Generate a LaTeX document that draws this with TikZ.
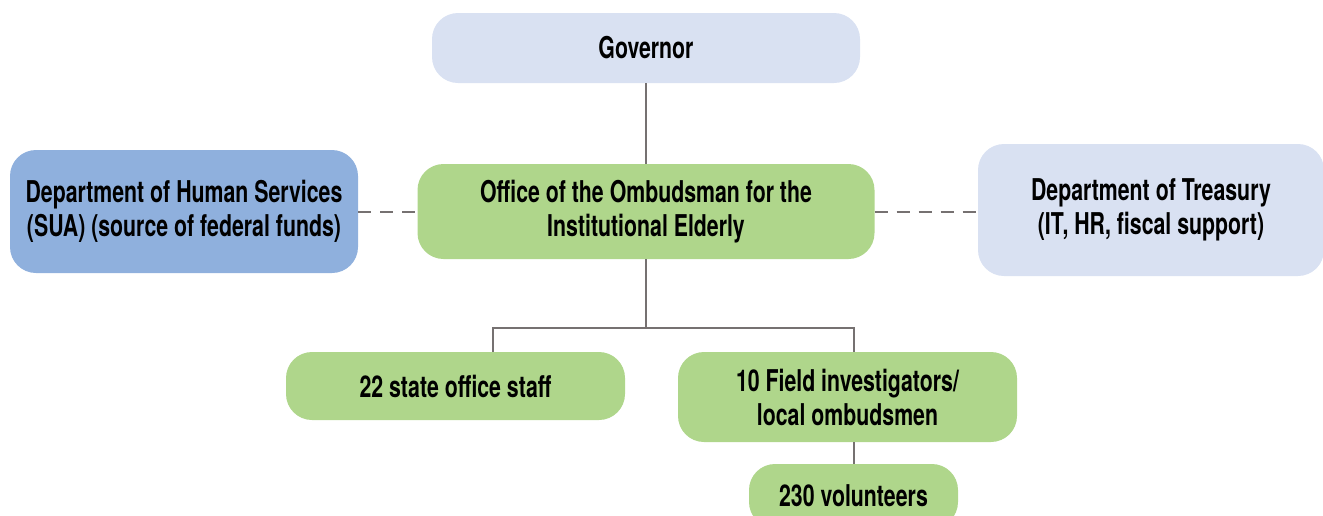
\documentclass[tikz,border=0pt]{standalone}
\usepackage{fontspec}
\setmainfont{TeX Gyre Heros}[FakeStretch=0.71]
\definecolor{lightblue}{HTML}{D9E1F2}
\definecolor{midblue}{HTML}{8FB0DD}
\definecolor{leaf}{HTML}{AFD68B}
\definecolor{conn}{HTML}{767171}
\tikzset{
  box/.style={rounded corners=26pt, inner sep=0pt, align=center,
    font=\fontsize{30}{34}\selectfont\bfseries, text=black},
  wire/.style={draw=conn, line width=2pt},
  dashwire/.style={draw=conn, line width=2pt, dash pattern=on 13pt off 9pt}
}
\begin{document}
\begin{tikzpicture}[x=1pt,y=-1pt]
\useasboundingbox (0,0) rectangle (1323,515);
\clip (0,0) rectangle (1323,515);
\node[box, fill=lightblue, minimum width=428pt, minimum height=70pt] (gov) at (646,48) {Governor};
\node[box, fill=midblue, minimum width=348pt, minimum height=123pt] (dhs) at (184,211.5) {Department of Human Services\\(SUA) (source of federal funds)};
\node[box, fill=leaf, minimum width=457pt, minimum height=95pt] (office) at (646,211.5) {Office of the Ombudsman for the\\Institutional Elderly};
\node[box, fill=lightblue, minimum width=346pt, minimum height=132pt] (treas) at (1151,210) {Department of Treasury\\(IT, HR, fiscal support)};
\node[box, fill=leaf, minimum width=339pt, minimum height=68pt] (staff) at (455.5,386) {22 state office staff};
\node[box, fill=leaf, minimum width=339pt, minimum height=90pt] (field) at (847.5,397) {10 Field investigators/\\local ombudsmen};
\node[box, fill=leaf, minimum width=209pt, minimum height=64pt] (vol) at (853.5,496) {230 volunteers};
\coordinate (j) at (646,328);
\coordinate (jl) at (493,328);
\coordinate (jr) at (853.5,328);
\draw[wire] (gov.south) -- (office.north);
\draw[wire] (office.south) -- (j);
\draw[wire] (jl |- staff.north) -- (jl) -- (jr) -- (jr |- field.north);
\draw[wire] (vol.north) -- (vol.north |- field.south);
\draw[dashwire] (dhs.east) -- (office.west);
\draw[dashwire] (office.east) -- (office.east -| treas.west);
\end{tikzpicture}
\end{document}
